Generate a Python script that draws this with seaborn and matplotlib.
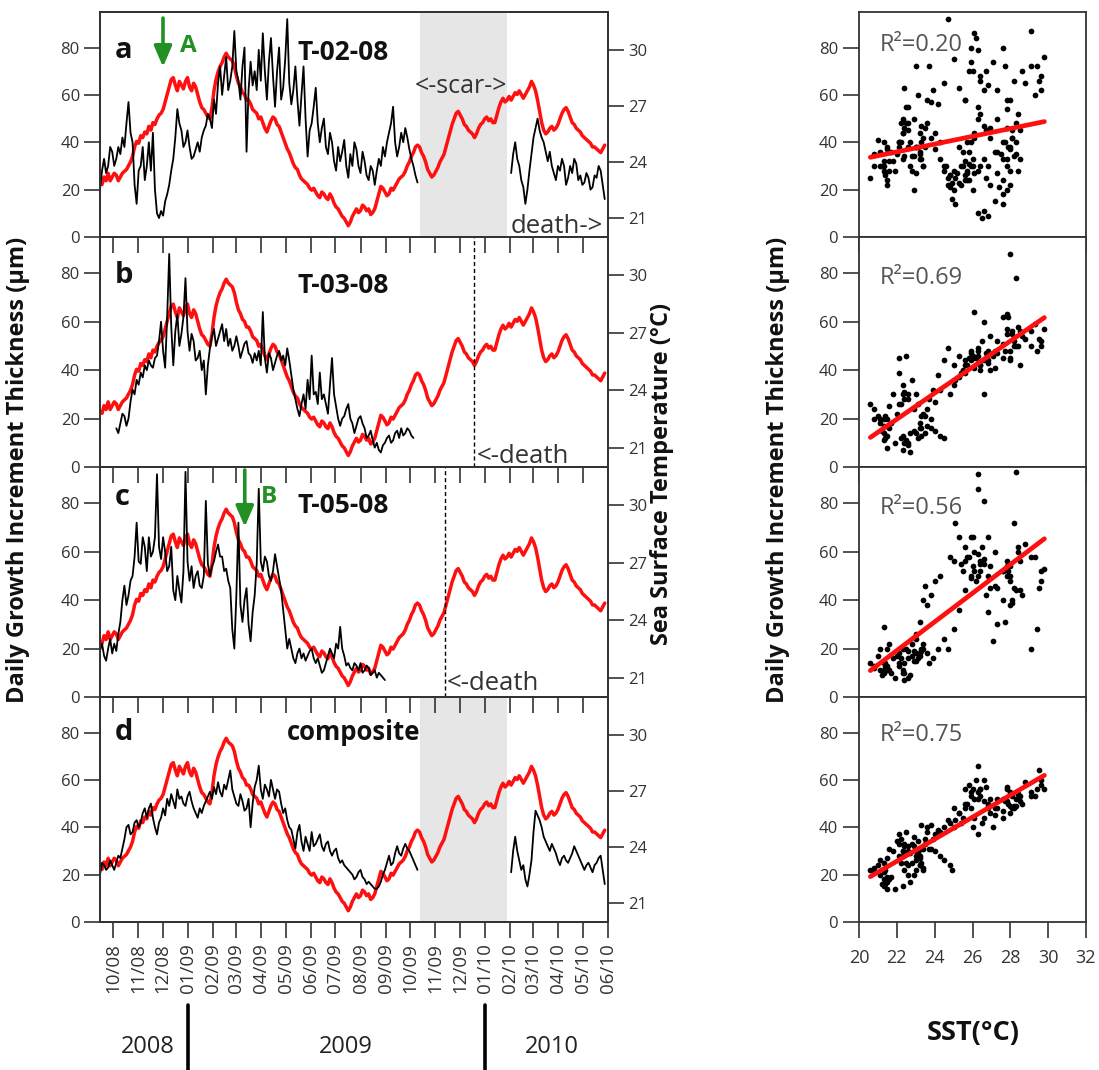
import numpy as np
import pandas as pd
import matplotlib
matplotlib.use("Agg")
import matplotlib.pyplot as plt
import matplotlib.dates as mdates
import matplotlib.transforms as mtrans
import seaborn as sns

sns.set_style("ticks")
plt.rcParams["font.family"] = ["Open Sans", "DejaVu Sans"]
plt.rcParams["axes.edgecolor"] = "#333333"
plt.rcParams["axes.linewidth"] = 1.3

W, H = 1099, 1070

# ---------------- data (2.5-day sampling) ----------------
dates = pd.date_range("2008-09-15", periods=249, freq="60h")

sst = [22.9, 22.8, 23.2, 23.0, 23.4, 23.0, 23.2, 23.4, 23.3, 23.0,
       23.2, 23.4, 23.5, 23.6, 23.8, 24.0, 24.3, 24.8, 25.1, 25.0,
       25.4, 25.3, 25.6, 25.5, 25.9, 25.7, 26.1, 26.0, 26.3, 26.5,
       26.6, 26.8, 27.2, 27.6, 28.0, 28.4, 28.5, 28.1, 27.8, 28.3,
       28.1, 27.9, 28.3, 28.5, 28.0, 27.8, 28.2, 28.0, 27.6, 27.2,
       26.9, 26.8, 26.6, 26.4, 26.3, 26.9, 27.8, 28.4, 28.8, 29.1,
       29.3, 29.6, 29.8, 29.6, 29.5, 29.4, 29.1, 28.6, 28.2, 28.0,
       27.7, 27.6, 27.3, 27.3, 27.1, 26.8, 26.7, 26.6, 26.3, 26.4,
       26.1, 25.8, 25.6, 25.9, 26.2, 26.4, 26.3, 26.0, 25.9, 25.6,
       25.3, 25.0, 24.7, 24.5, 24.2, 23.9, 23.7, 23.6, 23.3, 23.1,
       23.0, 22.9, 22.8, 22.6, 22.5, 22.6, 22.4, 22.2, 22.1, 22.4,
       22.3, 22.1, 22.0, 22.3, 22.1, 21.8, 21.6, 21.5, 21.3, 21.1,
       21.0, 20.8, 20.6, 20.8, 21.1, 21.3, 21.5, 21.3, 21.4, 21.7,
       21.6, 21.4, 21.5, 21.2, 21.3, 21.5, 21.9, 22.3, 22.7, 22.6,
       22.4, 22.2, 22.3, 22.6, 22.5, 22.7, 22.9, 23.1, 23.2, 23.3,
       23.5, 23.8, 24.0, 24.3, 24.5, 24.8, 24.9, 24.8, 24.5, 24.3,
       24.0, 23.6, 23.4, 23.2, 23.3, 23.5, 23.7, 24.0, 24.2, 24.4,
       24.8, 25.2, 25.6, 26.0, 26.3, 26.6, 26.7, 26.5, 26.3, 26.0,
       25.9, 25.7, 25.6, 25.5, 25.3, 25.5, 25.8, 26.0, 26.1, 26.3,
       26.4, 26.2, 26.3, 26.1, 26.1, 26.5, 26.9, 27.2, 27.4, 27.2,
       27.3, 27.5, 27.3, 27.5, 27.7, 27.6, 27.8, 27.6, 27.4, 27.6,
       27.8, 28.0, 28.3, 28.1, 27.8, 27.3, 26.7, 26.1, 25.7, 25.5,
       25.6, 25.8, 25.9, 25.7, 25.8, 26.0, 26.3, 26.6, 26.8, 26.9,
       26.7, 26.4, 26.1, 26.0, 25.8, 25.7, 25.6, 25.4, 25.3, 25.2,
       25.1, 25.0, 24.8, 24.8, 24.7, 24.6, 24.5, 24.7, 24.9]

# T-02-08: before the scar and after the scar
growth_a_early = [20, 28, 33, 27, 30, 38, 36, 30, 33, 38,
                  35, 42, 38, 48, 57, 44, 40, 22, 14, 28,
                  30, 38, 24, 30, 40, 28, 44, 20, 10, 8,
                  11, 9, 15, 18, 22, 28, 33, 42, 54, 48,
                  45, 38, 40, 45, 38, 33, 34, 37, 40, 36,
                  42, 45, 47, 52, 50, 46, 58, 52, 65, 72,
                  60, 68, 76, 62, 66, 72, 87, 70, 66, 58,
                  72, 80, 36, 62, 74, 64, 70, 62, 79, 66,
                  86, 70, 58, 74, 84, 68, 55, 70, 80, 58,
                  63, 75, 92, 65, 56, 62, 72, 58, 47, 60,
                  72, 50, 34, 45, 48, 55, 63, 48, 40, 46,
                  50, 38, 35, 44, 40, 32, 28, 38, 32, 36,
                  41, 30, 25, 35, 30, 40, 37, 30, 27, 36,
                  32, 26, 24, 30, 28, 22, 28, 33, 30, 38,
                  34, 40, 44, 48, 55, 40, 34, 38, 44, 40,
                  46, 42, 37, 33, 30, 26, 23]
growth_a_late = [27, 35, 40, 33, 30, 24, 21, 14, 20, 28,
                 35, 42, 46, 50, 45, 42, 40, 36, 32, 36,
                 30, 27, 24, 30, 28, 33, 30, 22, 25, 30,
                 27, 33, 31, 24, 26, 22, 23, 27, 25, 20,
                 21, 26, 25, 30, 28, 22, 16]
late_start = 202

# T-03-08 (starts at sample 8)
growth_b = [16, 14, 18, 22, 21, 17, 20, 27, 32, 30,
            36, 34, 39, 37, 42, 40, 44, 42, 41, 45,
            46, 52, 60, 48, 41, 62, 88, 58, 42, 56,
            63, 50, 55, 62, 78, 56, 48, 55, 52, 44,
            45, 48, 40, 44, 30, 42, 49, 54, 57, 50,
            53, 56, 59, 52, 57, 50, 53, 48, 50, 54,
            50, 45, 48, 51, 52, 47, 46, 43, 47, 44,
            48, 42, 64, 45, 39, 47, 45, 40, 43, 46,
            48, 44, 46, 42, 49, 44, 38, 32, 28, 24,
            21, 26, 30, 24, 36, 28, 46, 30, 31, 26,
            39, 28, 30, 26, 22, 34, 45, 30, 25, 20,
            17, 20, 21, 24, 26, 20, 18, 14, 17, 20,
            21, 18, 16, 12, 13, 15, 11, 8, 10, 7,
            6, 9, 10, 12, 13, 10, 11, 14, 15, 12,
            16, 13, 14, 16, 15, 13, 12]
b_start = 8

# T-05-08
growth_c = [19, 22, 17, 15, 20, 24, 18, 22, 19, 26,
            31, 40, 46, 38, 42, 48, 50, 58, 72, 56,
            55, 66, 62, 52, 66, 58, 60, 66, 92, 62,
            57, 66, 60, 52, 54, 62, 44, 40, 50, 44,
            39, 52, 93, 56, 48, 54, 45, 50, 52, 46,
            45, 50, 81, 55, 50, 54, 56, 60, 63, 58,
            58, 52, 53, 48, 45, 28, 20, 42, 72, 38,
            31, 40, 45, 30, 23, 35, 42, 55, 86, 56,
            52, 58, 56, 50, 48, 52, 59, 54, 49, 44,
            36, 28, 20, 24, 20, 16, 14, 18, 20, 16,
            18, 15, 17, 19, 20, 16, 14, 16, 13, 10,
            11, 14, 17, 20, 18, 16, 22, 20, 29, 20,
            17, 13, 14, 12, 11, 14, 13, 11, 14, 10,
            11, 13, 12, 9, 10, 11, 8, 10, 9, 8,
            7]

# composite
growth_d_early = [20, 25, 24, 22, 23, 26, 24, 22, 25, 28,
                  27, 31, 35, 40, 41, 37, 38, 42, 43, 40,
                  42, 46, 48, 44, 48, 50, 44, 40, 37, 42,
                  44, 48, 45, 52, 49, 54, 51, 48, 56, 52,
                  53, 50, 49, 53, 55, 51, 48, 46, 44, 48,
                  46, 49, 51, 53, 55, 52, 57, 54, 59, 55,
                  53, 58, 56, 60, 64, 56, 53, 50, 49, 54,
                  51, 47, 48, 52, 40, 50, 57, 60, 66, 56,
                  52, 58, 56, 53, 60, 56, 52, 56, 55, 50,
                  46, 48, 43, 40, 39, 35, 31, 38, 41, 34,
                  30, 36, 33, 30, 38, 32, 33, 35, 37, 32,
                  30, 33, 34, 30, 28, 30, 31, 27, 25, 26,
                  24, 23, 22, 21, 20, 18, 19, 21, 22, 19,
                  18, 16, 17, 16, 15, 14, 14, 15, 17, 20,
                  22, 25, 28, 24, 25, 29, 32, 29, 28, 31,
                  33, 31, 30, 28, 26, 24, 22]
growth_d_late = [21, 30, 36, 30, 26, 22, 24, 18, 15, 20,
                 26, 38, 47, 45, 43, 40, 36, 34, 32, 30,
                 33, 31, 29, 26, 24, 27, 28, 26, 25, 27,
                 29, 32, 30, 28, 26, 24, 22, 24, 25, 23,
                 21, 24, 25, 27, 28, 22, 16]

panel_letters = ["a", "b", "c", "d"]
panel_titles = ["T-02-08", "T-03-08", "T-05-08", "composite"]
r2_labels = ["R²=0.20", "R²=0.69", "R²=0.56", "R²=0.75"]
scatter_includes_late = [True, True, True, False]

scar_span = ("2009-10-13", "2010-01-28")
death_b = "2009-12-19"
death_c = "2009-11-13"
year_labels = ["2008", "2009", "2010"]


def build(n, pieces):
    arr = np.full(n, np.nan)
    for start, vals in pieces:
        arr[start:start + len(vals)] = vals
    return arr


N = len(dates)
sst_arr = np.array(sst, dtype=float)
series = [
    build(N, [(0, growth_a_early), (late_start, growth_a_late)]),
    build(N, [(b_start, growth_b)]),
    build(N, [(0, growth_c)]),
    build(N, [(0, growth_d_early), (late_start, growth_d_late)]),
]

# ---------------- layout ----------------
fig = plt.figure(figsize=(W / 100, H / 100), dpi=100)
rows = [(12, 237), (237, 467), (467, 697), (697, 922)]
LX0, LX1 = 100, 608
RX0, RX1 = 859, 1086


def rect(x0, x1, y0, y1):
    return [x0 / W, 1 - y1 / H, (x1 - x0) / W, (y1 - y0) / H]


TC = "#333333"
GREEN = "#229022"
RED = "#ff1010"
NOTE = "#333333"
xmin, xmax = pd.Timestamp("2008-09-15"), pd.Timestamp("2010-06-01")

letter_y = [0.796, 0.80, 0.835, 0.809]
title_y = [0.787, 0.757, 0.80, 0.809]
title_x = [0.388, 0.388, 0.388, 0.368]
title_fs = [19, 19, 19, 18.5]
r2_y = [81, 78, 78, 79]

left_axes = []
for i, (y0, y1) in enumerate(rows):
    ax = fig.add_axes(rect(LX0, LX1, y0, y1))
    ax2 = ax.twinx()
    g = series[i]
    # black growth line (split at gaps)
    idx = np.where(~np.isnan(g))[0]
    runs = np.split(idx, np.where(np.diff(idx) > 1)[0] + 1)
    for r in runs:
        sns.lineplot(x=dates[r], y=g[r], ax=ax, color="black", lw=1.3,
                     estimator=None)
    # red SST line
    sns.lineplot(x=dates, y=sst_arr, ax=ax2, color=RED, lw=2.5,
                 estimator=None)
    ax.set_zorder(ax2.get_zorder() + 1)
    ax.patch.set_visible(False)

    if i in (0, 3):
        ax2.axvspan(pd.Timestamp(scar_span[0]), pd.Timestamp(scar_span[1]),
                    color="#e6e6e6", zorder=0, lw=0)

    ax.set_xlim(xmin, xmax)
    ax.set_ylim(0, 95)
    ax.set_yticks([0, 20, 40, 60, 80])
    ax2.set_ylim(20, 32)
    ax2.set_yticks([21, 24, 27, 30])
    ax.xaxis.set_major_locator(mdates.MonthLocator())
    ax.xaxis.set_major_formatter(mdates.DateFormatter("%m/%y"))
    ax.set_xlabel("")
    ax.set_ylabel("")
    ax2.set_ylabel("")
    for a_ in (ax, ax2):
        a_.tick_params(direction="out", length=11.5, width=1.2, colors=TC,
                       labelsize=12, pad=3)
    if i < 3:
        ax.tick_params(axis="x", labelbottom=False)
    else:
        ax.tick_params(axis="x", labelrotation=90, labelsize=13.5, pad=4)

    ax.text(0.03, letter_y[i], panel_letters[i], transform=ax.transAxes,
            fontsize=21, fontweight="bold", color="#111111", va="baseline")
    ax.text(title_x[i], title_y[i], panel_titles[i], transform=ax.transAxes,
            fontsize=title_fs[i], fontweight="bold", color="#111111",
            va="baseline")
    left_axes.append(ax)

axA, axB, axC, axD = left_axes
axA.text(0.711, 0.671, "<-scar->", transform=axA.transAxes, fontsize=18,
         color=NOTE, ha="center", va="center")
axA.text(0.990, 0.018, "death->", transform=axA.transAxes, fontsize=18.5,
         color=NOTE, ha="right", va="baseline")
axB.text(0.742, 0.017, "<-death", transform=axB.transAxes, fontsize=18.5,
         color=NOTE, ha="left", va="baseline")
axC.text(0.683, 0.030, "<-death", transform=axC.transAxes, fontsize=18.5,
         color=NOTE, ha="left", va="baseline")
axB.axvline(pd.Timestamp(death_b), color="black", lw=1, ls=(0, (3, 2)))
axC.axvline(pd.Timestamp(death_c), color="black", lw=1, ls=(0, (3, 2)))

arrow_kw = dict(arrowstyle="-|>,head_width=0.45,head_length=1.05",
                color=GREEN, lw=2.6, mutation_scale=12, shrinkA=0, shrinkB=0)
axA.annotate("", xy=(0.124, 0.756), xytext=(0.124, 0.973),
             xycoords="axes fraction", textcoords="axes fraction",
             arrowprops=arrow_kw)
axA.text(0.158, 0.822, "A", transform=axA.transAxes, fontsize=17.5,
         fontweight="bold", color=GREEN, va="baseline")
axC.annotate("", xy=(0.285, 0.74), xytext=(0.285, 0.987),
             xycoords="axes fraction", textcoords="axes fraction",
             arrowprops=arrow_kw)
axC.text(0.316, 0.843, "B", transform=axC.transAxes, fontsize=17.5,
         fontweight="bold", color=GREEN, va="baseline")

# year separators and labels under the time axis
trans = mtrans.blended_transform_factory(axD.transData, axD.transAxes)
for d in ["2009-01-01", "2010-01-01"]:
    axD.plot([pd.Timestamp(d)] * 2, [-0.37, -0.66], transform=trans,
             color="black", lw=2.6, clip_on=False)
for lbl, xp in zip(year_labels, [148, 346, 552]):
    fig.text(xp / W, 1 - 1047 / H, lbl, fontsize=17, color="#222222",
             ha="center", va="center")

# ---------------- scatter panels ----------------
for i, (y0, y1) in enumerate(rows):
    axs = fig.add_axes(rect(RX0, RX1, y0, y1))
    g = series[i].copy()
    if not scatter_includes_late[i]:
        g[late_start:] = np.nan
    sns.regplot(x=sst_arr, y=g, ax=axs, ci=None, truncate=True,
                scatter_kws=dict(s=17, color="black", linewidths=0, alpha=1),
                line_kws=dict(color=RED, lw=3.4))
    axs.set_xlim(20, 32)
    axs.set_ylim(0, 95)
    axs.set_xticks(range(20, 33, 2))
    axs.set_yticks([0, 20, 40, 60, 80])
    axs.tick_params(direction="out", length=11.5, width=1.2, colors=TC,
                    labelsize=12)
    axs.tick_params(axis="x", labelsize=13, pad=8)
    if i < 3:
        axs.tick_params(axis="x", labelbottom=False)
    axs.text(0.09, r2_y[i], r2_labels[i],
             transform=mtrans.blended_transform_factory(axs.transAxes,
                                                        axs.transData),
             fontsize=17, color="#555555", va="center", ha="left")
    axs.set_xlabel("")
    axs.set_ylabel("")

# ---------------- axis titles ----------------
fig.text(18 / W, 1 - 470 / H, "Daily Growth Increment Thickness (µm)",
         rotation=90, fontsize=17, fontweight="bold", ha="center",
         va="center", color="#111111")
fig.text(662 / W, 1 - 474 / H, "Sea Surface Temperature (°C)",
         rotation=90, fontsize=17, fontweight="bold", ha="center",
         va="center", color="#111111")
fig.text(778 / W, 1 - 470 / H, "Daily Growth Increment Thickness (µm)",
         rotation=90, fontsize=17, fontweight="bold", ha="center",
         va="center", color="#111111")
fig.text(973 / W, 1 - 1033 / H, "SST(°C)", fontsize=19.5, fontweight="bold",
         ha="center", va="center", color="#111111")

fig.savefig("out.png", dpi=100)
